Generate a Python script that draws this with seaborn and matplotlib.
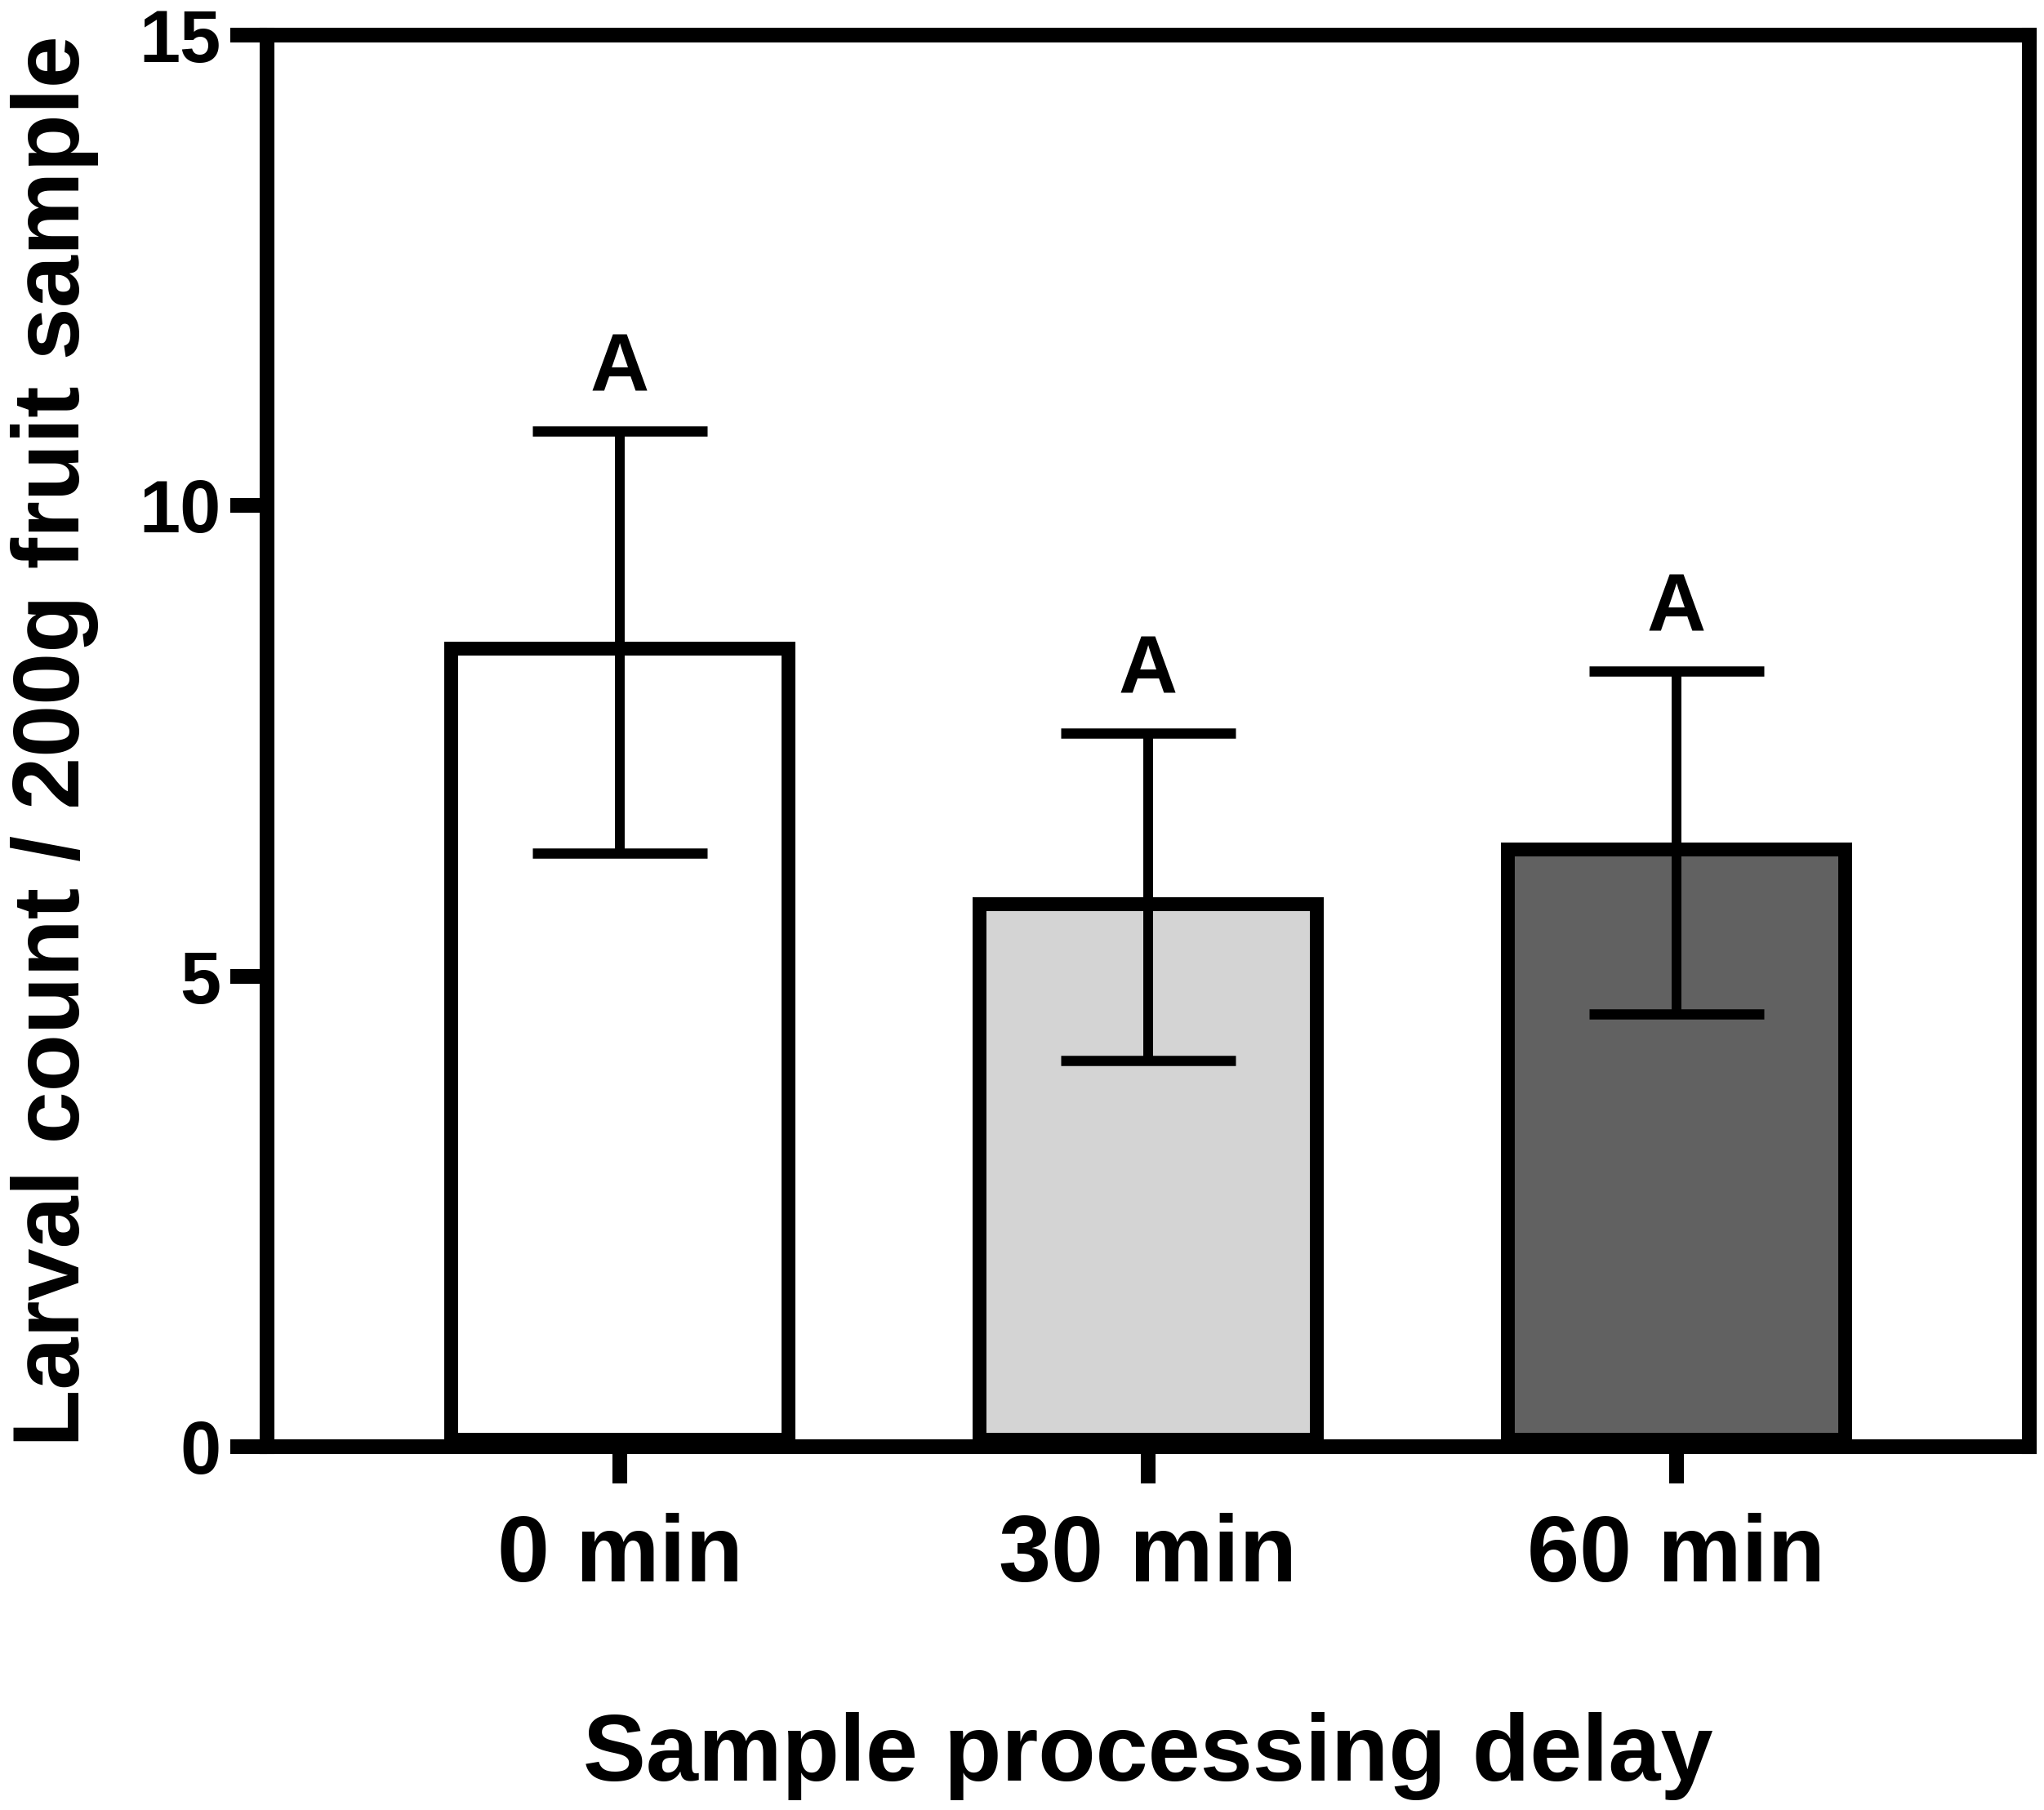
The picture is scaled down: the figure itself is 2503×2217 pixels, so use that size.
import matplotlib
matplotlib.use('Agg')
import numpy as np
import pandas as pd
import matplotlib.pyplot as plt
import seaborn as sns

# Values.
delays = ['0 min', '30 min', '60 min']
means = [8.55, 5.84, 6.42]
errors = [2.24, 1.74, 1.82]
letters = ['A', 'A', 'A']
fills = ['#ffffff', '#d4d4d4', '#616161']
yticks = [0, 5, 10, 15]

sns.set_style('ticks')
plt.rcParams['font.family'] = ['Liberation Sans', 'DejaVu Sans']
plt.rcParams['font.weight'] = 'bold'
plt.rcParams['text.color'] = 'black'
plt.rcParams['axes.labelcolor'] = 'black'
plt.rcParams['xtick.color'] = 'black'
plt.rcParams['ytick.color'] = 'black'

fig = plt.figure(figsize=(25.03, 22.17), dpi=100)
ax = fig.add_axes([0.1306, 0.2007, 0.8622, 0.7799])

# Bars.
df = pd.DataFrame({'delay': delays, 'count': means})
sns.barplot(data=df, x='delay', y='count', hue='delay', palette=fills,
            legend=False, errorbar=None, width=0.665, saturation=1,
            edgecolor='black', linewidth=24.4, ax=ax, zorder=2)

# Draw the bar outline inside the bar (clip the doubled stroke to the bar).
for p in ax.patches:
  p.set_clip_path(p)

# Error bars.
xs = np.arange(len(delays))
ax.errorbar(xs, means, yerr=errors, fmt='none', ecolor='black',
            elinewidth=8.6, capsize=77, capthick=9, zorder=5)

# Group letters.
for x, m, e, l in zip(xs, means, errors, letters):
  ax.text(x, m + e + 0.42, l, ha='center', va='baseline',
          fontsize=72, fontweight='bold', color='black')

# Axes setup.
ax.set_xlim(-0.668, 2.668)
ax.set_ylim(0, 15)
ax.set_yticks(yticks)
ax.set_yticklabels([str(t) for t in yticks])
for s in ax.spines.values():
  s.set_visible(True)
  s.set_linewidth(13)
  s.set_color('black')
  s.set_capstyle('projecting')
  s.set_zorder(6)
ax.tick_params(axis='both', direction='out', length=32.4, width=13,
               color='black', labelcolor='black')
ax.tick_params(axis='y', labelsize=65, pad=8)
ax.tick_params(axis='x', labelsize=83, pad=26)
for lbl in ax.get_xticklabels() + ax.get_yticklabels():
  lbl.set_fontweight('bold')

ax.set_xlabel('Sample processing delay', fontsize=83, fontweight='bold', color='black')
ax.set_ylabel('Larval count / 200g fruit sample', fontsize=83, fontweight='bold', color='black')
ax.xaxis.set_label_coords(0.5, -0.188)
ax.yaxis.set_label_coords(-0.0955, 0.5)

fig.savefig('out.png', dpi=100)
